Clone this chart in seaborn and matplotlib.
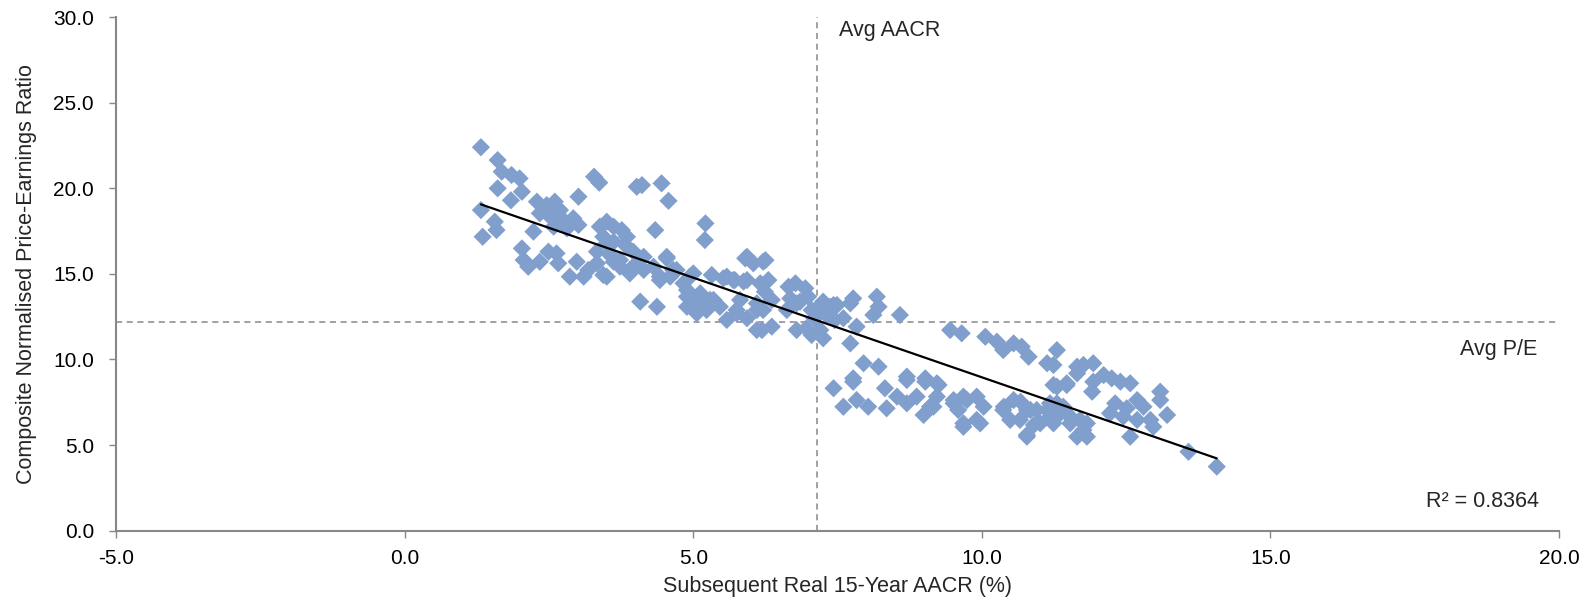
import numpy as np
import pandas as pd
import matplotlib
matplotlib.use("Agg")
import matplotlib.pyplot as plt
import seaborn as sns

# ---- data ----
aacr = [
    1.32, 1.61, 1.68, 1.85, 1.99, 1.61, 1.84, 2.03, 1.32, 1.35, 1.56, 1.59, 2.29, 2.46, 2.60, 2.69,
    2.34, 2.52, 2.75, 2.92, 3.01, 2.23, 2.58, 2.81, 3.01, 3.28, 3.37, 4.02, 4.11, 4.45, 4.57, 4.34,
    3.38, 3.50, 3.62, 3.76, 3.85, 3.44, 3.62, 3.82, 3.96, 3.33, 3.56, 2.03, 2.06, 2.14, 2.34, 2.49,
    2.63, 2.66, 2.98, 2.86, 3.10, 3.18, 3.33, 3.44, 3.62, 3.73, 3.90, 4.08, 4.14, 4.31, 4.42, 4.54,
    4.65, 4.83, 4.94, 5.00, 4.89, 4.08, 4.37,
    5.20, 5.21, 5.90, 6.04, 6.21, 5.00, 5.32, 5.58, 5.72, 5.87, 4.89, 5.12, 5.29, 5.00, 5.23, 5.46,
    5.58, 5.75, 5.93, 6.19, 6.36, 6.16, 6.30, 6.24, 6.10, 6.36, 6.21, 6.65, 6.77, 6.94, 6.68, 6.85,
    6.99, 6.62, 6.79, 6.79, 6.96, 7.05, 7.25, 7.20, 7.05, 7.25, 7.37, 7.49, 7.31, 7.60, 7.77, 8.18,
    8.21, 8.12, 8.58, 7.83, 7.72, 7.95, 8.21, 7.77, 8.70, 9.02,
    7.43, 7.72, 9.45, 9.65, 10.06, 10.26, 10.37, 10.55, 10.69, 10.81, 11.13, 11.30, 11.24, 7.43, 7.77,
    7.60, 7.83, 8.03, 8.32, 8.35, 8.53, 8.70, 8.70, 8.87, 9.02, 8.99, 9.10, 9.25, 9.22, 9.51, 9.59,
    9.74, 9.68, 9.91, 9.97, 10.03, 10.37, 10.49, 10.67, 10.78, 10.78, 10.90, 10.95, 11.13, 11.30,
    11.24, 11.65, 11.76, 11.93, 11.47, 11.30, 11.93, 12.11, 12.25, 12.40, 12.57, 11.91, 12.31, 12.51,
    12.69, 12.80, 13.09, 13.09, 13.21, 12.22, 12.45, 12.69, 12.92, 12.97, 12.57, 11.18, 11.41, 11.53,
    11.70, 11.82, 11.65, 11.82, 11.24, 13.58, 14.07,
    3.50, 3.73, 3.96, 4.14, 3.50, 3.90, 4.54, 4.71, 4.42, 4.60, 4.89, 5.12, 5.35, 5.52, 5.69, 5.81,
    5.93, 5.93, 5.75, 6.10, 6.10, 4.95, 5.06,
    9.22, 9.16, 9.51, 9.68, 9.68, 9.91, 10.38, 10.55, 10.66, 10.84, 10.78, 11.01, 11.18, 11.30, 11.47,
    11.65, 11.53, 11.76, 7.10, 7.45, 7.15, 6.25,
]
pe_ratio = [
    22.40, 21.65, 20.97, 20.78, 20.58, 20.00, 19.30, 19.80, 18.73, 17.17, 18.05, 17.56, 19.22, 19.02, 19.22, 18.73,
    18.54, 18.34, 18.15, 18.25, 17.86, 17.47, 17.76, 17.66, 19.51, 20.68, 20.33, 20.09, 20.19, 20.29, 19.27, 17.56,
    17.76, 18.05, 17.76, 17.56, 17.17, 17.17, 16.88, 16.69, 16.30, 16.30, 16.10, 16.49, 15.81, 15.42, 15.71, 16.30,
    16.20, 15.62, 15.71, 14.84, 14.84, 15.23, 15.62, 14.94, 15.71, 15.42, 15.23, 15.81, 15.23, 15.42, 14.84, 16.00,
    15.23, 14.45, 14.84, 13.28, 13.08, 13.38, 13.08,
    16.98, 17.95, 15.91, 15.62, 15.71, 15.03, 14.94, 14.84, 14.64, 14.55, 13.67, 13.87, 13.48, 12.99, 12.89, 13.08,
    12.31, 12.70, 12.41, 11.72, 11.92, 14.45, 14.64, 13.96, 13.28, 13.48, 12.89, 14.25, 14.45, 14.16, 13.57, 13.38,
    13.67, 12.89, 13.28, 11.72, 11.82, 11.43, 11.24, 11.72, 12.89, 13.38, 13.08, 13.18, 12.60, 12.41, 13.57, 13.67,
    13.08, 12.60, 12.60, 11.92, 10.94, 9.78, 9.58, 8.90, 9.00, 8.90,
    13.18, 13.28, 11.72, 11.53, 11.33, 11.04, 10.55, 10.94, 10.75, 10.16, 9.78, 10.55, 8.51, 8.32, 8.70,
    7.24, 7.63, 7.24, 8.32, 7.15, 7.83, 8.80, 7.44, 7.83, 8.70, 6.76, 7.24, 8.51, 7.83, 7.63, 7.05,
    7.63, 6.07, 7.83, 6.27, 7.24, 7.05, 6.47, 7.53, 7.05, 5.59, 6.17, 7.05, 7.05, 6.66,
    9.68, 9.58, 9.68, 9.78, 8.51, 8.41, 8.70, 9.09, 8.90, 8.70, 8.61, 8.12, 7.44, 7.15,
    7.63, 7.24, 8.12, 7.63, 6.76, 6.86, 6.66, 6.47, 6.47, 6.07, 5.49, 7.44, 7.24, 6.66,
    6.47, 6.27, 5.49, 5.49, 6.27, 4.61, 3.74,
    16.79, 15.81, 15.42, 16.00, 14.84, 15.03, 15.91, 15.23, 14.64, 14.84, 14.06, 13.08, 13.48, 14.74, 14.64, 13.48,
    16.00, 14.64, 12.89, 11.72, 12.89, 13.67, 12.70,
    8.61, 7.24, 7.44, 7.83, 6.27, 6.47, 7.24, 7.63, 6.47, 7.05, 5.49, 6.27, 6.66, 7.44, 8.61,
    9.19, 6.27, 5.88, 12.40, 12.30, 13.00, 15.80,
]
avg_aacr = 7.15
avg_pe = 12.2
r2_label = "R² = 0.8364"
x_ticks = [-5, 0, 5, 10, 15, 20]
y_ticks = [0, 5, 10, 15, 20, 25, 30]

df = pd.DataFrame({"aacr": aacr, "pe": pe_ratio})

sns.set_theme(style="white")
plt.rcParams["font.family"] = ["Liberation Sans", "DejaVu Sans"]

fig = plt.figure(figsize=(15.85, 6.02), dpi=100)
ax = fig.add_axes([0.0733, 0.1185, 0.9103, 0.853])

point_color = "#809FCC"
grey = "#888888"
fs_tick = 15
fs_label = 15.5

sns.scatterplot(data=df, x="aacr", y="pe", marker="D", s=86, color=point_color,
                edgecolor="none", linewidth=0, ax=ax, zorder=2)
sns.regplot(data=df, x="aacr", y="pe", scatter=False, ci=None, truncate=True,
            line_kws={"color": "black", "lw": 1.6, "zorder": 3}, ax=ax)

ax.axvline(avg_aacr, color=grey, ls=(0, (4, 3)), lw=1.1, zorder=1)
ax.axhline(avg_pe, color=grey, ls=(0, (4, 3)), lw=1.1, zorder=1)

ax.set_xlim(-5, 20)
ax.set_ylim(0, 30)
ax.set_xticks(x_ticks)
ax.set_yticks(y_ticks)
ax.set_xticklabels([f"{v:.1f}" for v in x_ticks])
ax.set_yticklabels([f"{v:.1f}" for v in y_ticks])
ax.tick_params(axis="both", which="major", labelsize=fs_tick, colors="#000000",
               length=5, width=1, direction="out")
ax.tick_params(axis="x", pad=8)
ax.tick_params(axis="y", pad=11)
ax.tick_params(axis="both", color=grey)
ax.xaxis.set_ticks_position("bottom")
ax.yaxis.set_ticks_position("left")

for side in ["top", "right"]:
    ax.spines[side].set_visible(False)
for side in ["left", "bottom"]:
    ax.spines[side].set_color(grey)
    ax.spines[side].set_linewidth(1.5)

ax.set_xlabel("Subsequent Real 15-Year AACR (%)", fontsize=fs_label)
ax.set_ylabel("Composite Normalised Price-Earnings Ratio", fontsize=fs_label)
ax.xaxis.set_label_coords(0.5, -0.088)
ax.yaxis.set_label_coords(-0.055, 0.5)

ax.text(7.52, 29.2, "Avg AACR", fontsize=fs_label, ha="left", va="center")
ax.text(19.62, 10.6, "Avg P/E", fontsize=fs_label, ha="right", va="center")
ax.text(19.66, 1.7, r2_label, fontsize=fs_label, ha="right", va="center")

fig.savefig("out.png", dpi=100, facecolor="white")
